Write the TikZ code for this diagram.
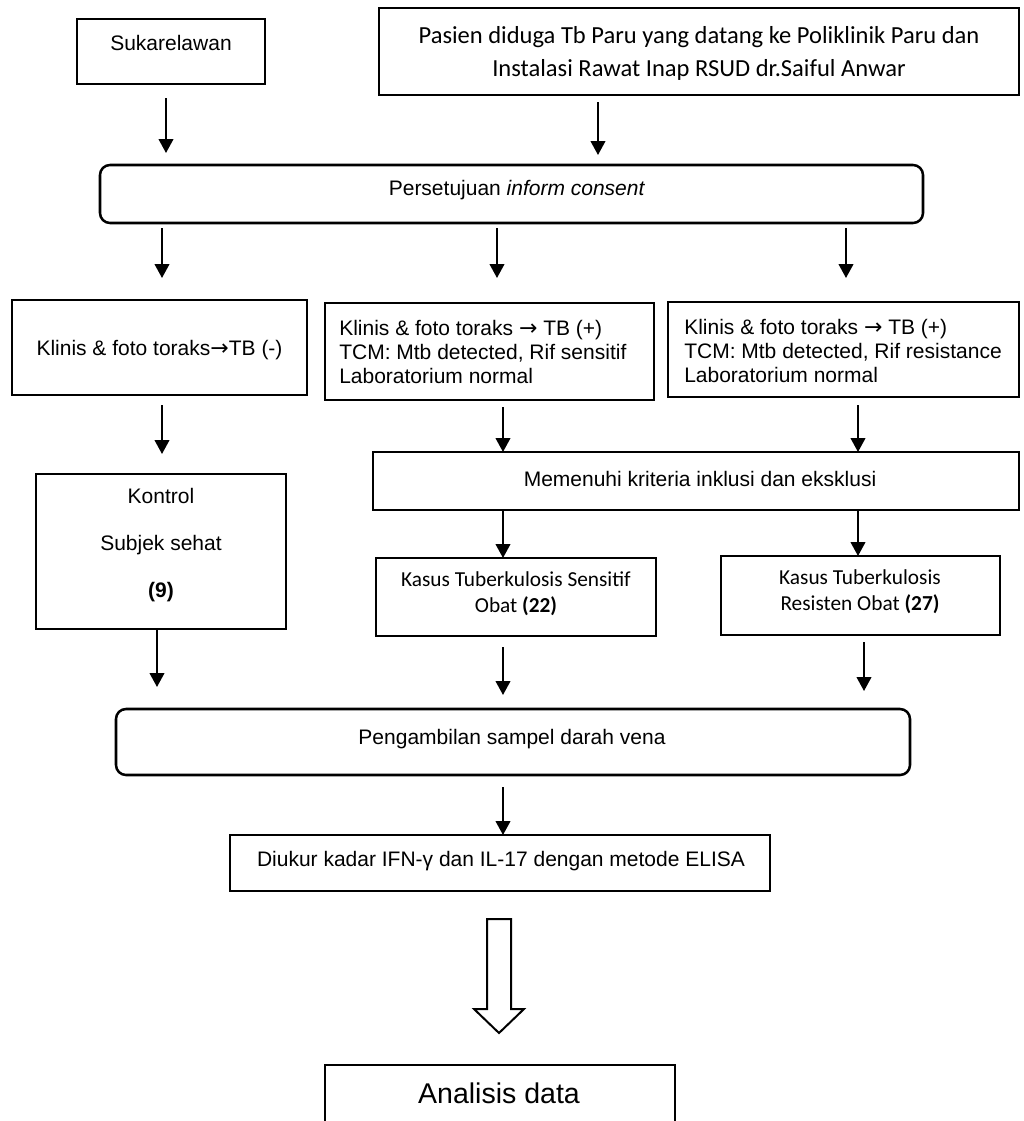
\documentclass[tikz,border=0pt]{standalone}
\usepackage{fontspec}
\setmainfont{Liberation Sans}
\newfontfamily\calfont{Carlito}
\newfontfamily\arrfont{DejaVu Sans}
\newcommand{\rarr}{{\arrfont\fontsize{16.5}{18}\selectfont →}}
\usetikzlibrary{arrows.meta}
\begin{document}
\begin{tikzpicture}[x=0.75pt,y=-0.75pt,
  box/.style={draw, line width=1.9pt, inner sep=0pt, outer sep=0pt},
  thinbox/.style={draw, line width=0.9pt, inner sep=0pt, outer sep=0pt},
  rbox/.style={box, rounded corners=7.5pt},
  txt/.style={inner sep=0pt, font=\fontsize{15.75}{18}\selectfont},
  caltxt/.style={inner sep=0pt, font=\calfont\fontsize{16}{19.5}\selectfont},
  arr/.style={line width=1.5pt, -{Triangle[length=10.5pt,width=11pt]}},
]
\clip (0,0) rectangle (1024,1121);
\fill[white] (0,0) rectangle (1024,1121);

% x positions of the connectors
\coordinate (c166) at (166,0);
\coordinate (c598) at (598,0);
\coordinate (c162) at (162,0);
\coordinate (c497) at (497,0);
\coordinate (c846) at (846,0);
\coordinate (c503) at (503,0);
\coordinate (c858) at (858,0);
\coordinate (c864) at (864,0);
\coordinate (c157) at (157,0);

% boxes
\node[box, minimum width=141pt, minimum height=48.75pt] (suk) at (171,51.5) {};
\node[txt] (sukt) at (171,43) {Sukarelawan};

\node[box, minimum width=480pt, minimum height=65.25pt] (pas) at (699,51.5) {};
\node[caltxt, align=center, font=\calfont\fontsize{18.4}{24.75}\selectfont] (past) at (699,53.5)
  {Pasien diduga Tb Paru yang datang ke Poliklinik Paru dan\\Instalasi Rawat Inap RSUD dr.Saiful Anwar};

\node[rbox, minimum width=617.25pt, minimum height=43.5pt] (cons) at (511.5,194) {};
\node[txt] (const) at (517,190) {Persetujuan \textit{inform consent}};

\node[box, minimum width=221.25pt, minimum height=71.25pt] (A) at (159.5,347.5) {};
\node[txt] (At) at (159.5,350) {Klinis \& foto toraks\rarr TB (-)};

\node[box, minimum width=246.75pt, minimum height=72.75pt] (B) at (489.5,351.5) {};
\node[txt, align=left, anchor=west] (Bt) at (339,352)
  {Klinis \& foto toraks \rarr{} TB (+)\\TCM: Mtb detected, Rif sensitif\\Laboratorium normal};

\node[box, minimum width=263.25pt, minimum height=71.25pt] (C) at (843.5,349.5) {};
\node[txt, align=left, anchor=west] (Ct) at (684,351)
  {Klinis \& foto toraks \rarr{} TB (+)\\TCM: Mtb detected, Rif resistance\\Laboratorium normal};

\node[box, minimum width=187.5pt, minimum height=116.25pt] (kon) at (161,551.5) {};
\node[txt, align=center, font=\fontsize{15.75}{35}\selectfont] (kont) at (161,545)
  {Kontrol\\Subjek sehat\\\textbf{(9)}};

\node[box, minimum width=484.5pt, minimum height=43.5pt] (mem) at (696,481) {};
\node[txt] (memt) at (700,479) {Memenuhi kriteria inklusi dan eksklusi};

\node[thinbox, minimum width=210pt, minimum height=58.5pt] (ks) at (516,597) {};
\node[caltxt, align=center] (kst) at (516,594) {Kasus Tuberkulosis Sensitif\\Obat \textbf{(22)}};

\node[thinbox, minimum width=209.25pt, minimum height=59.25pt] (kr) at (860.5,595.5) {};
\node[caltxt, align=center] (krt) at (860,592) {Kasus Tuberkulosis\\Resisten Obat \textbf{(27)}};

\node[rbox, minimum width=595.5pt, minimum height=49.5pt] (peng) at (513,742) {};
\node[txt] (pengt) at (512,739) {Pengambilan sampel darah vena};

\node[box, minimum width=405pt, minimum height=42pt] (diu) at (500,863) {};
\node[txt] (diut) at (501,861) {Diukur kadar IFN-γ dan IL-17 dengan metode ELISA};

\node[box, line width=1.6pt, minimum width=262.5pt, minimum height=52.5pt] (ana) at (500,1100) {};
\node[txt, font=\fontsize{21.4}{25}\selectfont] (anat) at (499,1093) {Analisis data};

% connectors
\draw[arr, shorten <=10.5pt, shorten >=9pt] (suk.south -| c166) -- (cons.north -| c166);
\draw[arr, shorten <=5.25pt, shorten >=7.5pt] (pas.south -| c598) -- (cons.north -| c598);
\draw[arr, shorten <=3.75pt, shorten >=16.5pt] (cons.south -| c162) -- (A.north -| c162);
\draw[arr, shorten <=3.75pt, shorten >=18.75pt] (cons.south -| c497) -- (B.north -| c497);
\draw[arr, shorten <=3.75pt, shorten >=18pt] (cons.south -| c846) -- (C.north -| c846);
\draw[arr, shorten <=7.5pt, shorten >=15pt] (A.south -| c162) -- (kon.north -| c162);
\draw[arr, shorten <=5.25pt] (B.south -| c503) -- (mem.north -| c503);
\draw[arr, shorten <=6pt] (C.south -| c858) -- (mem.north -| c858);
\draw[arr] (mem.south -| c503) -- (ks.north -| c503);
\draw[arr] (mem.south -| c858) -- (kr.north -| c858);
\draw[arr, shorten >=16.5pt] (kon.south -| c157) -- (peng.north -| c157);
\draw[arr, shorten <=8.25pt, shorten >=10.5pt] (ks.south -| c503) -- (peng.north -| c503);
\draw[arr, shorten <=5.25pt, shorten >=13.5pt] (kr.south -| c864) -- (peng.north -| c864);
\draw[arr, shorten <=9pt] (peng.south -| c503) -- (diu.north -| c503);

% hollow block arrow from measurement box to analysis box
\draw[line width=1.5pt, fill=white, line join=miter]
  (487,919) -- (511,919) -- (511,1009) -- (524,1009) -- (499,1033) -- (474,1009) -- (487,1009) -- cycle;
\end{tikzpicture}
\end{document}
